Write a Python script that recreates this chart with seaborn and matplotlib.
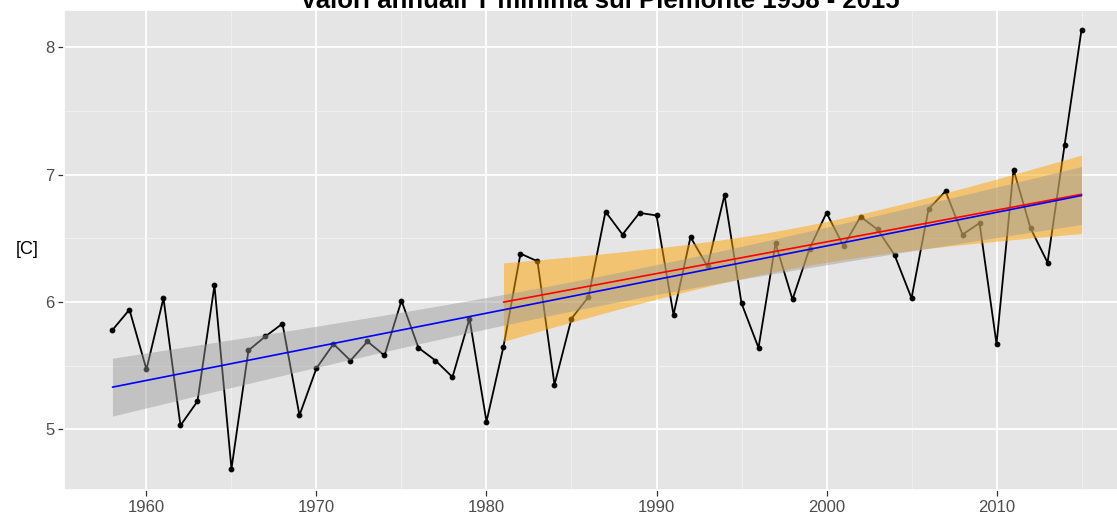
import numpy as np
import pandas as pd
import matplotlib
matplotlib.use("Agg")
import matplotlib.pyplot as plt
import seaborn as sns
from matplotlib.ticker import MultipleLocator

# ---- data ----
years = list(range(1958, 2016))
tmin = [5.78, 5.94, 5.47, 6.03, 5.03, 5.22, 6.13, 4.69, 5.62, 5.73,
        5.83, 5.11, 5.48, 5.67, 5.54, 5.69, 5.58, 6.01, 5.64, 5.54,
        5.41, 5.87, 5.06, 5.65, 6.38, 6.32, 5.35, 5.87, 6.04, 6.71,
        6.53, 6.70, 6.68, 5.90, 6.51, 6.28, 6.84, 5.99, 5.64, 6.46,
        6.02, 6.42, 6.70, 6.44, 6.67, 6.57, 6.37, 6.03, 6.73, 6.87,
        6.53, 6.62, 5.67, 7.04, 6.58, 6.31, 7.23, 8.14]
split_year = 1981
title = "Valori annuali T minima sul Piemonte 1958 - 2015"
ylabel = "[C]"
xticks = [1960, 1970, 1980, 1990, 2000, 2010]
yticks = [5, 6, 7, 8]

sns.set_theme(style="darkgrid", rc={
    "axes.facecolor": "#e5e5e5",
    "grid.color": "white",
    "figure.facecolor": "white",
})
plt.rcParams["font.family"] = ["Liberation Sans", "DejaVu Sans"]

fig = plt.figure(figsize=(11.17, 5.15), dpi=100)
ax = fig.add_axes([64 / 1117, 25 / 515, 1066 / 1117, 480 / 515])

df = pd.DataFrame({"anno": years, "tmin": tmin})

# data line with points (drawn beneath the confidence bands)
sns.lineplot(data=df, x="anno", y="tmin", color="black", lw=1.3,
             marker="o", ms=3.4, mec="black", mfc="black", ax=ax, zorder=2)


def lm_band(sub, tq):
    """Analytic 95% confidence band of an OLS fit (as in ggplot's geom_smooth)."""
    x = sub["anno"].to_numpy(float)
    y = sub["tmin"].to_numpy(float)
    n = len(x)
    b, a = np.polyfit(x, y, 1)
    resid = y - (a + b * x)
    s = np.sqrt((resid ** 2).sum() / (n - 2))
    grid = np.linspace(x.min(), x.max(), 100)
    se = s * np.sqrt(1 / n + (grid - x.mean()) ** 2 / ((x - x.mean()) ** 2).sum())
    fit = a + b * grid
    return grid, fit - tq * se, fit + tq * se


recent = df[df["anno"] >= split_year]

# confidence bands (t quantiles 0.975 for n-2 dof)
g, lo, hi = lm_band(recent, 2.035)
ax.fill_between(g, lo, hi, color="#ffa500", alpha=0.5, lw=0, zorder=3)
g, lo, hi = lm_band(df, 2.003)
ax.fill_between(g, lo, hi, color="#999999", alpha=0.45, lw=0, zorder=3.5)

# trend lines
sns.regplot(data=recent, x="anno", y="tmin", scatter=False, ci=None,
            color="red", line_kws=dict(lw=1.2, zorder=5), ax=ax)
sns.regplot(data=df, x="anno", y="tmin", scatter=False, ci=None,
            color="blue", line_kws=dict(lw=1.2, zorder=6), ax=ax)

ax.set_xlim(1955.15, 2017.85)
ax.set_ylim(4.523, 8.294)
ax.set_xticks(xticks)
ax.set_yticks(yticks)
ax.xaxis.set_minor_locator(MultipleLocator(5))
ax.yaxis.set_minor_locator(MultipleLocator(0.5))
ax.grid(which="major", color="white", lw=1.3)
ax.grid(which="minor", color="#f2f2f2", lw=0.6)
ax.tick_params(which="major", length=4, width=0.9, color="#333333",
               labelsize=12, labelcolor="#4d4d4d", left=True, bottom=True, pad=3)
ax.tick_params(which="minor", length=0)

ax.set_xlabel("")
ax.set_ylabel(ylabel, rotation=0, fontsize=13, color="black", ha="center", va="center")
ax.yaxis.set_label_coords(-(64 - 27) / 1066, 0.5)

fig.text(600 / 1117, 1 - 8 / 515, title, ha="center", va="baseline",
         fontsize=18.5, fontweight="bold", color="black")

fig.savefig("out.png", dpi=100)
